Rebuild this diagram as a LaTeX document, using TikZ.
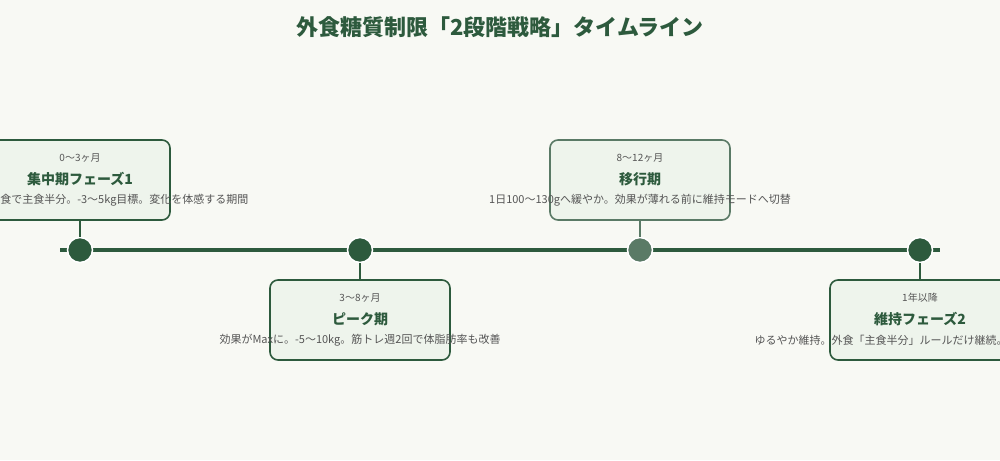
\documentclass[tikz,border=0pt]{standalone}
\usepackage{fontspec}
\setmainfont{Noto Sans CJK JP}
\usetikzlibrary{positioning}
\definecolor{bgcol}{HTML}{F8F9F4}
\definecolor{darkgreen}{HTML}{2D5A3D}
\definecolor{midgreen}{HTML}{5A7A66}
\definecolor{boxfill}{HTML}{EEF4EC}
\definecolor{greytext}{HTML}{555555}

\begin{document}
\begin{tikzpicture}[x=1pt,y=-1pt]
	\tikzstyle{phase} = [draw=darkgreen, line width=1.6pt, fill=boxfill, rounded corners=8pt, minimum width=180pt, minimum height=80pt]
	\tikzstyle{dot} = [circle, fill=darkgreen, draw=white, line width=1.5pt, minimum size=25pt, inner sep=0pt]
	\tikzstyle{period} = [font=\fontsize{10}{12}\selectfont, text=greytext]
	\tikzstyle{phasename} = [font=\fontsize{14}{16}\selectfont\bfseries, text=darkgreen]
	\tikzstyle{desc} = [font=\fontsize{11}{13}\selectfont, text=greytext]
	\tikzstyle{stem} = [draw=darkgreen, line width=1.6pt]

	\useasboundingbox (0,0) rectangle (1000,460);
	\clip (0,0) rectangle (1000,460);
	\fill [bgcol] (0,0) rectangle (1000,460);

	\node [font=\fontsize{22}{26}\selectfont\bfseries, text=darkgreen] (title) at (500,27) {外食糖質制限「2段階戦略」タイムライン};

	% timeline
	\coordinate (start) at (60,250);
	\coordinate (end) at (940,250);
	\draw [darkgreen, line width=4pt] (start) -- (end);

	% phase boxes
	\node [phase] (p1) at (80,180) {};
	\node [phase] (p2) at (360,320) {};
	\node [phase, draw=midgreen] (p3) at (640,180) {};
	\node [phase] (p4) at (920,320) {};

	% dots
	\node [dot] (d1) at (80,250) {};
	\node [dot] (d2) at (360,250) {};
	\node [dot, fill=midgreen] (d3) at (640,250) {};
	\node [dot] (d4) at (920,250) {};

	\path [stem] (p1) -- (d1);
	\path [stem] (d2) -- (p2);
	\path [stem, draw=midgreen] (p3) -- (d3);
	\path [stem] (d4) -- (p4);

	% texts
	\node [period] (t1) at (80,158) {0〜3ヶ月};
	\node [phasename] (n1) at (80,179) {集中期フェーズ1};
	\node [desc, anchor=east] (s1) at (252,200) {外食で主食半分。-3〜5kg目標。変化を体感する期間};

	\node [period] (t2) at (360,298) {3〜8ヶ月};
	\node [phasename] (n2) at (360,319) {ピーク期};
	\node [desc] (s2) at (360,340) {効果がMaxに。-5〜10kg。筋トレ週2回で体脂肪率も改善};

	\node [period] (t3) at (640,158) {8〜12ヶ月};
	\node [phasename] (n3) at (640,179) {移行期};
	\node [desc] (s3) at (640,200) {1日100〜130gへ緩やか。効果が薄れる前に維持モードへ切替};

	\node [period] (t4) at (920,298) {1年以降};
	\node [phasename] (n4) at (920,319) {維持フェーズ2};
	\node [desc, anchor=west] (s4) at (751,340) {ゆるやか維持。外食「主食半分」ルールだけ継続。};
\end{tikzpicture}
\end{document}
